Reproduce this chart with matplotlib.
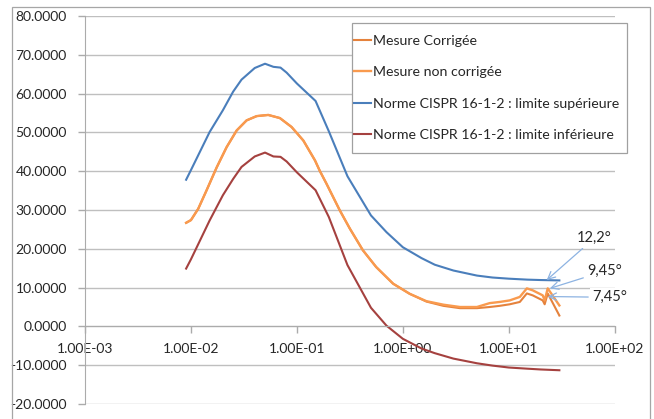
import matplotlib
matplotlib.use("Agg")
import matplotlib.pyplot as plt
from matplotlib.patches import Rectangle
from matplotlib.ticker import FixedLocator, FuncFormatter, NullLocator

plt.rcParams['font.family'] = ['Lato', 'DejaVu Sans']

# ─────────────── DATA
# CISPR 16-1-2 limits, frequency in MHz
limit_freq = [0.009, 0.01, 0.015, 0.02, 0.025, 0.03, 0.04, 0.05, 0.06, 0.07,
              0.08, 0.1, 0.15, 0.2, 0.3, 0.5, 0.7, 1, 1.5, 2, 3, 5, 7, 10,
              15, 20, 30]
limit_upper = [37.8, 40.3, 50.1, 55.7, 60.5, 63.6, 66.6, 67.7, 66.9, 66.7,
               65.4, 62.6, 58.1, 50.3, 38.7, 28.6, 24.3, 20.4, 17.6, 15.9,
               14.4, 13.1, 12.6, 12.3, 12.05, 11.95, 11.85]
limit_lower = [14.9, 17.3, 27.3, 33.8, 38.0, 41.1, 43.8, 44.8, 43.8, 43.7,
               42.5, 39.7, 35.1, 28.2, 15.8, 4.8, 0.2, -3.2, -5.7, -6.9,
               -8.3, -9.5, -10.1, -10.6, -10.9, -11.1, -11.3]

# measurements
meas_freq = [0.009, 0.01, 0.0117, 0.014, 0.0175, 0.0217, 0.027, 0.0335,
             0.0417, 0.0536, 0.069, 0.089, 0.115, 0.148, 0.165, 0.19, 0.254,
             0.316, 0.42, 0.56, 0.81, 1.16, 1.67, 2.41, 3.46, 5.0, 6.6, 8.2,
             10.2, 12.7, 14.8, 16.8, 20.9, 21.8, 23.3, 30]
meas_raw = [26.7, 27.4, 30.3, 35.0, 41.0, 46.2, 50.5, 53.1, 54.2, 54.5,
            53.7, 51.4, 47.9, 42.8, 40.0, 36.8, 29.9, 25.2, 19.6, 15.3,
            11.0, 8.4, 6.5, 5.6, 5.0, 5.0, 6.0, 6.3, 6.7, 7.6, 9.8, 9.3,
            8.0, 6.7, 9.8, 5.4]
meas_corr = [26.7, 27.4, 30.3, 35.0, 41.0, 46.2, 50.5, 53.1, 54.2, 54.5,
             53.7, 51.4, 47.9, 42.8, 40.0, 36.8, 29.9, 25.2, 19.6, 15.3,
             11.0, 8.4, 6.4, 5.3, 4.7, 4.7, 5.0, 5.3, 5.7, 6.3, 8.5, 8.0,
             6.7, 5.7, 8.5, 2.8]

series_labels = ["Mesure Corrigée", "Mesure non corrigée",
                 "Norme CISPR 16-1-2 : limite supérieure",
                 "Norme CISPR 16-1-2 : limite inférieure"]
annot_labels = ["12,2°", "9,45°", "7,45°"]

x_ticks = [1e-3, 1e-2, 1e-1, 1e0, 1e1, 1e2]
y_ticks = [-20, -10, 0, 10, 20, 30, 40, 50, 60, 70, 80]

# ─────────────── FIGURE
fig = plt.figure(figsize=(6.54, 4.19), dpi=100)
ax = fig.add_axes([0.130, 0.0358, 0.810, 0.926])

grid_col = '#BFBFBF'
text_col = '#262626'

ax.plot(meas_freq, meas_corr, color='#E5823C', lw=1.5, label=series_labels[0])
ax.plot(meas_freq, meas_raw, color='#F99A4E', lw=1.7, label=series_labels[1])
ax.plot(limit_freq, limit_upper, color='#4A7EBB', lw=1.5, label=series_labels[2])
ax.plot(limit_freq, limit_lower, color='#A5413F', lw=1.5, label=series_labels[3])

ax.set_xscale('log')
ax.set_xlim(1e-3, 1e2)
ax.set_ylim(-20, 80)

ax.xaxis.set_major_locator(FixedLocator(x_ticks))
ax.xaxis.set_minor_locator(NullLocator())
ax.xaxis.set_major_formatter(FuncFormatter(lambda v, p: f"{v:.2E}"))
ax.yaxis.set_major_locator(FixedLocator(y_ticks))
ax.yaxis.set_major_formatter(FuncFormatter(lambda v, p: f"{v:.4f}"))

ax.grid(axis='y', color=grid_col, lw=1.0)
ax.set_axisbelow(True)

for s in ['top', 'right']:
    ax.spines[s].set_visible(False)
ax.spines['bottom'].set_position(('data', 0))
ax.spines['bottom'].set_color('#ABABAB')
ax.spines['left'].set_color('#ABABAB')

ax.tick_params(axis='x', length=5, width=1, color='#ABABAB', pad=7,
               labelsize=10, labelcolor=text_col)
ax.tick_params(axis='y', length=5, width=1, color='#ABABAB', pad=8,
               labelsize=10, labelcolor=text_col)

# annotations with arrows (text position, arrow head)
annot_pos = [((43.8, 22.7), (22.8, 11.95)),
             ((54.5, 14.2), (24.4, 9.8)),
             ((60.7, 7.5), (23.3, 7.7))]
for lab, (txt, head) in zip(annot_labels, annot_pos):
    ax.annotate(lab, xy=head, xytext=txt, ha='left', va='center',
                fontsize=10.5, color=text_col,
                bbox=dict(boxstyle='square,pad=0.15', fc='white', ec='none'),
                arrowprops=dict(arrowstyle='->,head_length=0.5,head_width=0.25',
                                color='#8DB3E2', lw=0.9, shrinkA=1, shrinkB=0))

# legend box drawn by hand (Excel pads more vertically than sideways)
ax.add_patch(Rectangle((0.504, 0.647), 0.519, 0.335, transform=ax.transAxes,
                       facecolor='white', edgecolor='#A0A0A0', lw=0.9,
                       clip_on=False, zorder=4.5))
leg = ax.legend(loc='upper left', bbox_to_anchor=(0.508, 0.951),
                borderaxespad=0, frameon=False, fontsize=10.2,
                handlelength=1.2, handletextpad=0.1, labelspacing=1.36,
                borderpad=0)
leg.set_zorder(5)
for t in leg.get_texts():
    t.set_color(text_col)

# chart area border (open at the bottom, cut by the image)
fig.add_artist(Rectangle((12 / 654, -0.1), (650 - 12) / 654, 1.1 - 7 / 419,
                         transform=fig.transFigure, fill=False,
                         edgecolor='#A6A6A6', lw=0.9, clip_on=False))

fig.savefig('out.png', dpi=100)
